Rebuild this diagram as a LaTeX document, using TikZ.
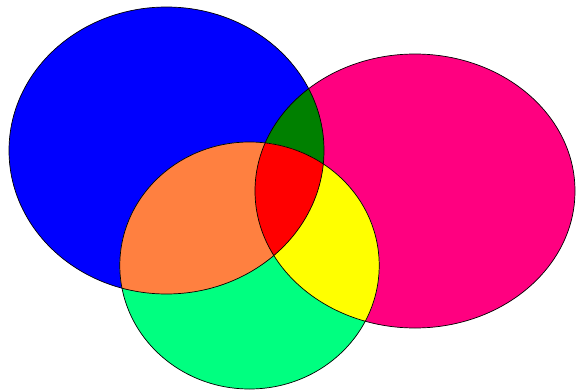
\documentclass[tikz,border=0pt]{standalone}

\definecolor{setblue}{RGB}{0,0,255}
\definecolor{setpink}{RGB}{255,0,128}
\definecolor{setgreen}{RGB}{0,255,128}
\definecolor{blueandpink}{RGB}{0,128,0}
\definecolor{blueandgreen}{RGB}{255,128,64}
\definecolor{pinkandgreen}{RGB}{255,255,0}
\definecolor{allthree}{RGB}{255,0,0}

\newcommand{\blueset}{(166.5,150.5) ellipse [x radius=157.5pt, y radius=143.5pt]}
\newcommand{\pinkset}{(415,191) ellipse [x radius=160pt, y radius=137pt]}
\newcommand{\greenset}{(249.5,265.5) ellipse [x radius=129.7pt, y radius=123.5pt]}

\begin{document}
\begin{tikzpicture}[x=1pt, y=-1pt, outline/.style={draw=black, line width=0.7pt}]

\fill[white] (0,0) rectangle (576,391);
\useasboundingbox (0,0) rectangle (576,391);

% the three sets
\fill[setblue] \blueset;
\fill[setpink] \pinkset;
\fill[setgreen] \greenset;

% pairwise overlaps
\begin{scope}
\clip \blueset;
\fill[blueandpink] \pinkset;
\fill[blueandgreen] \greenset;
\end{scope}
\begin{scope}
\clip \pinkset;
\fill[pinkandgreen] \greenset;
\end{scope}

% common part
\begin{scope}
\clip \blueset;
\clip \pinkset;
\fill[allthree] \greenset;
\end{scope}

\draw[outline] \blueset;
\draw[outline] \pinkset;
\draw[outline] \greenset;

\end{tikzpicture}
\end{document}
